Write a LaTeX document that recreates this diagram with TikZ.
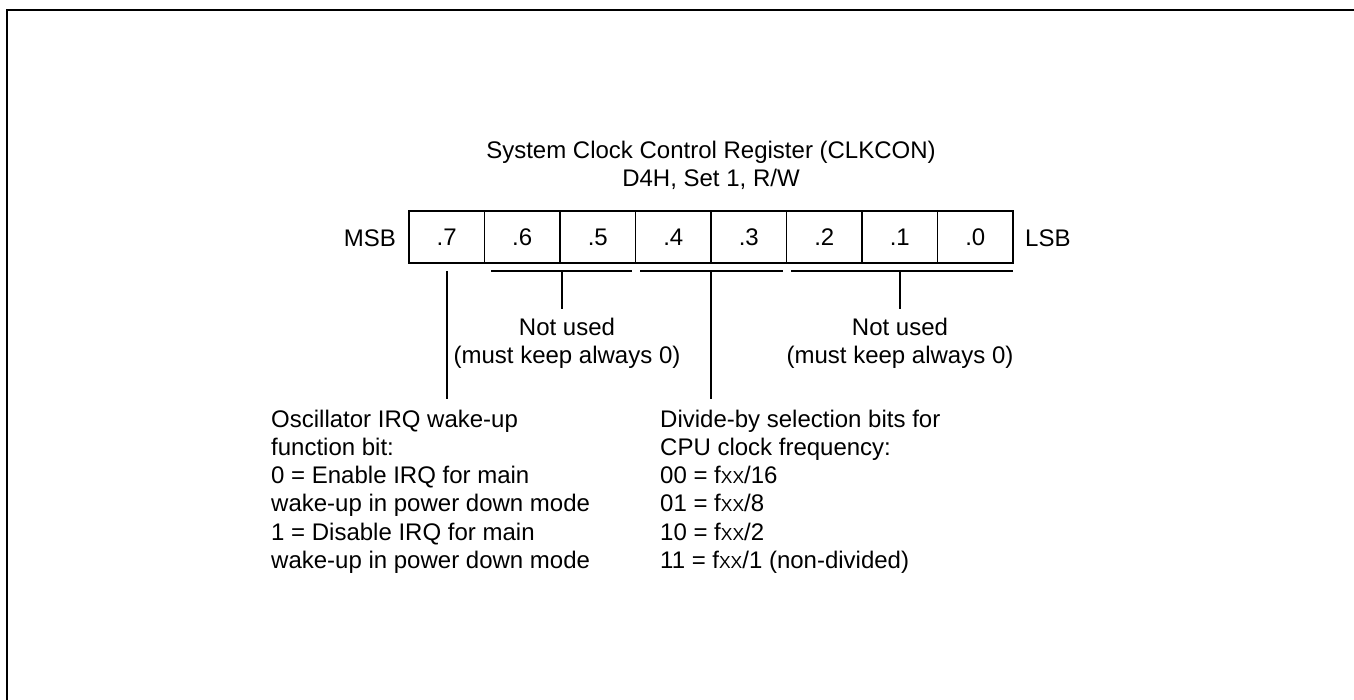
\documentclass[tikz,border=0pt]{standalone}
\usepackage{fontspec}
\setmainfont{Liberation Sans}
\usetikzlibrary{positioning}
\newcommand{\fxx}{f{\fontsize{17.4}{17.4}\selectfont XX}}

\begin{document}
\begin{tikzpicture}[x=1pt,y=-1pt,font=\fontsize{24}{28.3}\selectfont,
    bitcell/.style={draw,line width=1.4pt,minimum width=75.5pt,minimum height=52pt,inner sep=0pt,outer sep=0pt},
    lead/.style={line width=1.4pt},
    note/.style={align=left,inner xsep=0pt,inner ysep=10.5pt}]
  \useasboundingbox (0,0) rectangle (1354,700);
  % outer frame, only top and left edges show
  \draw[line width=2pt] (7,760) |- (1420,10);

  \node[align=center,anchor=north,inner sep=0pt] (title) at (711,140.5) {System Clock Control Register (CLKCON)\\D4H, Set 1, R/W};

  % the eight bits
  \node[bitcell] (b7) at (446.75,237) {.7};
  \node[bitcell,right=0pt of b7] (b6) {.6};
  \node[bitcell,right=0pt of b6] (b5) {.5};
  \node[bitcell,right=0pt of b5] (b4) {.4};
  \node[bitcell,right=0pt of b4] (b3) {.3};
  \node[bitcell,right=0pt of b3] (b2) {.2};
  \node[bitcell,right=0pt of b2] (b1) {.1};
  \node[bitcell,right=0pt of b1] (b0) {.0};
  \node[anchor=base east,inner sep=0pt] (msb) at (396,247) {MSB};
  \node[anchor=base west,inner sep=0pt] (lsb) at (1025,247) {LSB};

  % brackets under the fields
  \coordinate (u65w) at (491,271);  \coordinate (u65e) at (632,271);
  \coordinate (u43w) at (640,271);  \coordinate (u43e) at (783,271);
  \coordinate (u20w) at (791,271);  \coordinate (u20e) at (1013,271);
  \draw[lead] (u65w) -- (u65e);
  \draw[lead] (u43w) -- (u43e);
  \draw[lead] (u20w) -- (u20e);
  \coordinate (t7) at (447,271);
  \coordinate (t65) at (562,271);
  \coordinate (t43) at (711,271);
  \coordinate (t20) at (900,271);

  \node[align=center,anchor=north,inner xsep=0pt,inner ysep=8.5pt] (unused65) at (567,309) {Not used\\(must keep always 0)};
  \node[align=center,anchor=north,inner xsep=0pt,inner ysep=8.5pt] (unused20) at (900,309) {Not used\\(must keep always 0)};
  \draw[lead] (t65) -- (t65 |- unused65.north);
  \draw[lead] (t20) -- (t20 |- unused20.north);

  \node[note,anchor=north west] (osc) at (271,399) {Oscillator IRQ wake-up\\function bit:\\0 = Enable IRQ for main\\wake-up in power down mode\\1 = Disable IRQ for main\\wake-up in power down mode};
  \node[note,anchor=north west] (div) at (660,399) {Divide-by selection bits for\\CPU clock frequency:\\00 = \fxx/16\\01 = \fxx/8\\10 = \fxx/2\\11 = \fxx/1 (non-divided)};
  \draw[lead] (t7) -- (t7 |- osc.north);
  \draw[lead] (t43) -- (t43 |- div.north);
\end{tikzpicture}
\end{document}
